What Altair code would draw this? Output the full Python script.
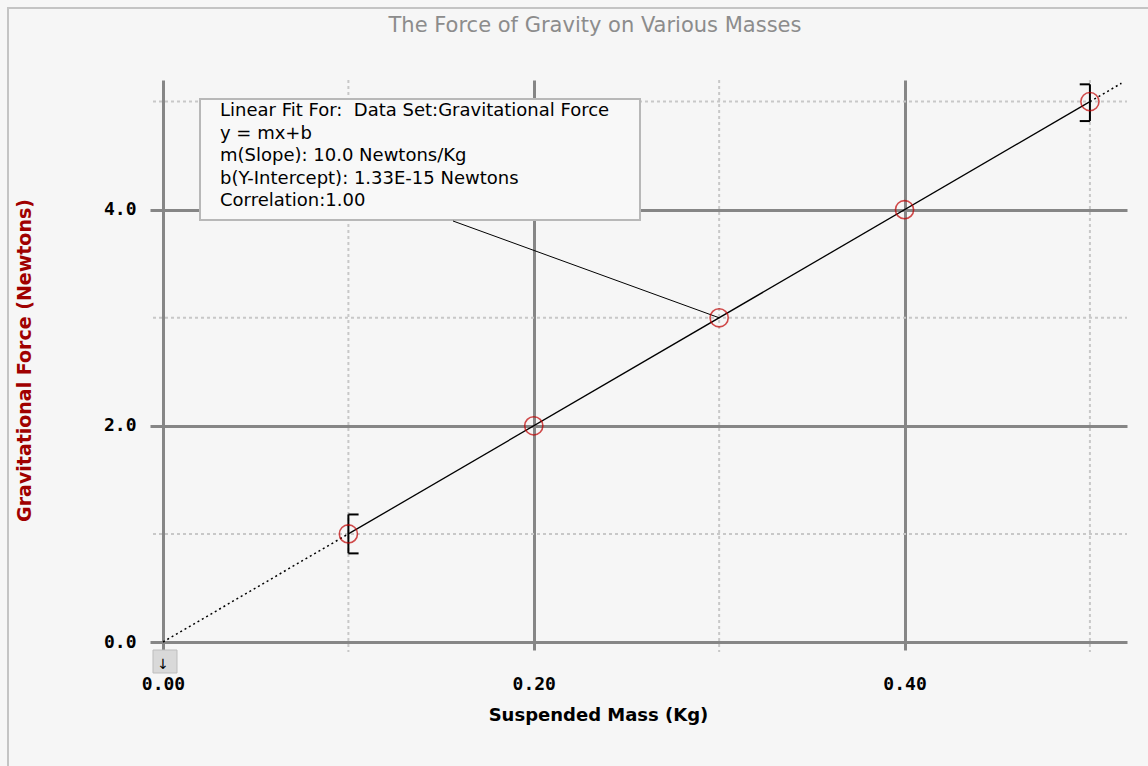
import altair as alt
import pandas as pd

# ---- data ----
mass = [0.1, 0.2, 0.3, 0.4, 0.5]
force = [1.0, 2.0, 3.0, 4.0, 5.0]

err_mass = [0.1, 0.5]
err_lo = [0.82, 4.82]
err_hi = [1.18, 5.16]
cap_end = [0.1055, 0.4945]

fit_x = [0.1, 0.5]
fit_y = [1.0, 5.0]
ext_x = [0.0, 0.1, 0.5, 0.517]
ext_y = [0.0, 1.0, 5.0, 5.17]
ext_seg = ["a", "a", "b", "b"]

minor_x = [0.1, 0.3, 0.5]
minor_y = [1.0, 3.0, 5.0]
x_ticks = [0.0, 0.2, 0.4]
y_ticks = [0.0, 2.0, 4.0]

fit_lines = [
    "Linear Fit For:\u00a0\u00a0Data Set:Gravitational Force",
    "y = mx+b",
    "m(Slope): 10.0 Newtons/Kg",
    "b(Y-Intercept): 1.33E-15 Newtons",
    "Correlation:1.00",
]
leader_target = [0.3, 3.0]

title_text = "The Force of Gravity on Various Masses"
x_title = "Suspended Mass (Kg)"
y_title = "Gravitational Force (Newtons)"

# ---- tables ----
pts = pd.DataFrame({"x": mass, "y": force})
err = pd.DataFrame({"x": err_mass, "lo": err_lo, "hi": err_hi, "xc": cap_end})
fit = pd.DataFrame({"x": fit_x, "y": fit_y})
ext = pd.DataFrame({"x": ext_x, "y": ext_y, "seg": ext_seg})
mx = pd.DataFrame({"x": minor_x})
my = pd.DataFrame({"y": minor_y})
one = pd.DataFrame({"k": [0]})
lead = pd.DataFrame({"x": [leader_target[0]], "y": [leader_target[1]]})

GRID = "#868686"
xs = alt.Scale(domain=[0, 0.52], nice=False, zero=False)
ys = alt.Scale(domain=[0, 5.2], nice=False, zero=False)

xaxis = alt.Axis(values=x_ticks, format=".2f", grid=True, gridColor=GRID, gridWidth=3,
                 domain=False, tickColor=GRID, tickWidth=3, tickSize=8,
                 labelFont="DejaVu Sans Mono", labelFontWeight="bold", labelFontSize=18,
                 labelColor="black", labelPadding=25, labelFlush=False,
                 title=x_title, titleFont="DejaVu Sans", titleFontSize=18,
                 titleFontWeight="bold", titleColor="black", titleX=435, titleY=73,
                 titleBaseline="middle", titleAlign="center")
yaxis = alt.Axis(values=y_ticks, format=".1f", grid=True, gridColor=GRID, gridWidth=3,
                 domain=False, tickColor=GRID, tickWidth=3, tickSize=13,
                 labelFont="DejaVu Sans Mono", labelFontWeight="bold", labelFontSize=18,
                 labelColor="black", labelPadding=14, labelFlush=False,
                 title=y_title, titleFont="DejaVu Sans", titleFontSize=19,
                 titleFontWeight="bold", titleColor="#a00000", titleX=-139, titleY=280,
                 titleBaseline="middle", titleAlign="center", titleAngle=270)


def X(f):
    return alt.X(f, type="quantitative", scale=xs, axis=xaxis)


def Y(f):
    return alt.Y(f, type="quantitative", scale=ys, axis=yaxis)


frame = alt.Chart(one).mark_rect(fill=None, stroke="#c4c4c4", strokeWidth=2).encode(
    x=alt.value(-155), x2=alt.value(1300), y=alt.value(-72), y2=alt.value(900))

title = alt.Chart(one).mark_text(text=title_text, font="DejaVu Sans", fontSize=21,
                                 color="#8c8c8c", align="center", baseline="middle").encode(
    x=alt.value(432), y=alt.value(-54))

minor_v = alt.Chart(mx).mark_rule(color="#c8c8c8", strokeWidth=2, strokeDash=[3, 3]).encode(
    x=X("x"), y=alt.value(0), y2=alt.value(572))
minor_h = alt.Chart(my).mark_rule(color="#c8c8c8", strokeWidth=2, strokeDash=[3, 3]).encode(
    y=Y("y"), x=alt.value(-10), x2=alt.value(964))

box = alt.Chart(one).mark_rect(fill="#f8f8f8", stroke="#b8b8b8", strokeWidth=2).encode(
    x=alt.value(37), x2=alt.value(477), y=alt.value(19), y2=alt.value(140))
box_text = alt.Chart(one).mark_text(text=fit_lines, align="left", baseline="middle",
                                    font="DejaVu Sans", fontSize=18, lineHeight=22.5,
                                    color="black").encode(x=alt.value(57), y=alt.value(31))

leader = alt.Chart(lead).mark_rule(color="black", strokeWidth=1).encode(
    x=X("x"), y=Y("y"), x2=alt.value(290), y2=alt.value(141))

fit_line = alt.Chart(fit).mark_line(color="black", strokeWidth=1.3).encode(x=X("x"), y=Y("y"))
ext_line = alt.Chart(ext).mark_line(color="black", strokeWidth=1.5, strokeDash=[2, 3]).encode(
    x=X("x"), y=Y("y"), detail="seg:N")

err_v = alt.Chart(err).mark_rule(color="black", strokeWidth=2).encode(
    x=X("x"), y=Y("lo"), y2="hi")
cap_lo = alt.Chart(err).mark_rule(color="black", strokeWidth=2).encode(
    x=X("x"), x2="xc", y=Y("lo"))
cap_hi = alt.Chart(err).mark_rule(color="black", strokeWidth=2).encode(
    x=X("x"), x2="xc", y=Y("hi"))

points = alt.Chart(pts).mark_point(shape="circle", filled=False, color="#c00000",
                                   size=330, strokeWidth=1.6).encode(x=X("x"), y=Y("y"))

button = alt.Chart(one).mark_rect(fill="#d9d9d9", stroke="#bdbdbd", strokeWidth=1).encode(
    x=alt.value(-10), x2=alt.value(14), y=alt.value(570), y2=alt.value(593))
button_arrow = alt.Chart(one).mark_text(text="↓", fontSize=14, color="black",
                                        font="DejaVu Sans").encode(
    x=alt.value(0), y=alt.value(585))

chart = alt.layer(
    frame, title, minor_v, minor_h, box, box_text, leader, ext_line, fit_line,
    err_v, cap_lo, cap_hi, points, button, button_arrow
).properties(
    width=964, height=562,
    autosize="none",
    padding={"left": 163, "top": 80, "right": 21, "bottom": 124},
    background="#f6f6f6",
).configure_view(stroke=None)

chart.save("out.html", embed_options={"renderer": "svg", "actions": False})
